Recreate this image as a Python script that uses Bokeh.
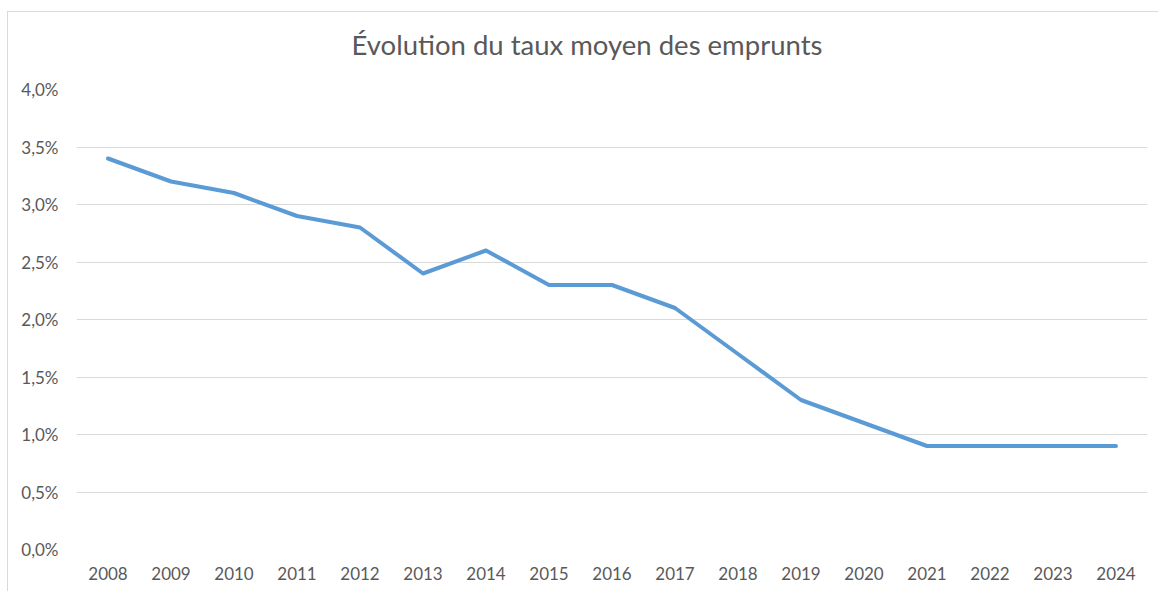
from bokeh.plotting import figure
from bokeh.models import FactorRange, FixedTicker, Range1d, Title
from bokeh.embed import file_html
from bokeh.resources import INLINE

years = ["2008", "2009", "2010", "2011", "2012", "2013", "2014", "2015", "2016",
         "2017", "2018", "2019", "2020", "2021", "2022", "2023", "2024"]
rates = [3.4, 3.2, 3.1, 2.9, 2.8, 2.4, 2.6, 2.3, 2.3, 2.1, 1.7, 1.3, 1.1, 0.9, 0.9, 0.9, 0.9]
y_ticks = [0.0, 0.5, 1.0, 1.5, 2.0, 2.5, 3.0, 3.5, 4.0]
y_tick_labels = ["0,0%", "0,5%", "1,0%", "1,5%", "2,0%", "2,5%", "3,0%", "3,5%", "4,0%"]

TEXT = "#595959"
GRID = "#d9d9d9"
FONT = "Lato"

p = figure(width=1151, height=580, x_range=FactorRange(factors=years, range_padding=0),
           y_range=Range1d(0, 4.0), output_backend="svg", toolbar_location=None,
           min_border_left=68, min_border_right=12, min_border_top=10, min_border_bottom=43)
p.styles = {"border-left": "1px solid #d9d9d9", "border-top": "1px solid #d9d9d9",
            "margin-left": "7px", "margin-top": "11px"}

p.title.text = "Évolution du taux moyen des emprunts"
p.title.text_font = FONT
p.title.text_font_size = "27.5px"
p.title.text_font_style = "normal"
p.title.text_color = TEXT
p.title.align = "left"
p.title.vertical_align = "top"
p.title.offset = 275
p.title.standoff = 31

# spacer between title and plot frame
p.add_layout(Title(text=" ", text_font_size="1px", standoff=8), "above")

p.line(x=years, y=rates, line_color="#5B9BD5", line_width=4, line_cap="round", line_join="round")

p.outline_line_color = None
p.xgrid.grid_line_color = None
p.ygrid.grid_line_color = GRID
p.ygrid.grid_line_width = 1
p.yaxis.ticker = FixedTicker(ticks=y_ticks)
p.yaxis.major_label_overrides = {t: l for t, l in zip(y_ticks, y_tick_labels)}

for ax in (p.xaxis, p.yaxis):
    ax.axis_line_color = None
    ax.major_tick_line_color = None
    ax.minor_tick_line_color = None
    ax.major_tick_out = 0
    ax.major_tick_in = 0
    ax.major_label_text_font = FONT
    ax.major_label_text_font_size = "17px"
    ax.major_label_text_color = TEXT
p.yaxis.major_label_standoff = 18
p.xaxis.major_label_standoff = 17

open("out.html", "w").write(file_html(p, INLINE))
